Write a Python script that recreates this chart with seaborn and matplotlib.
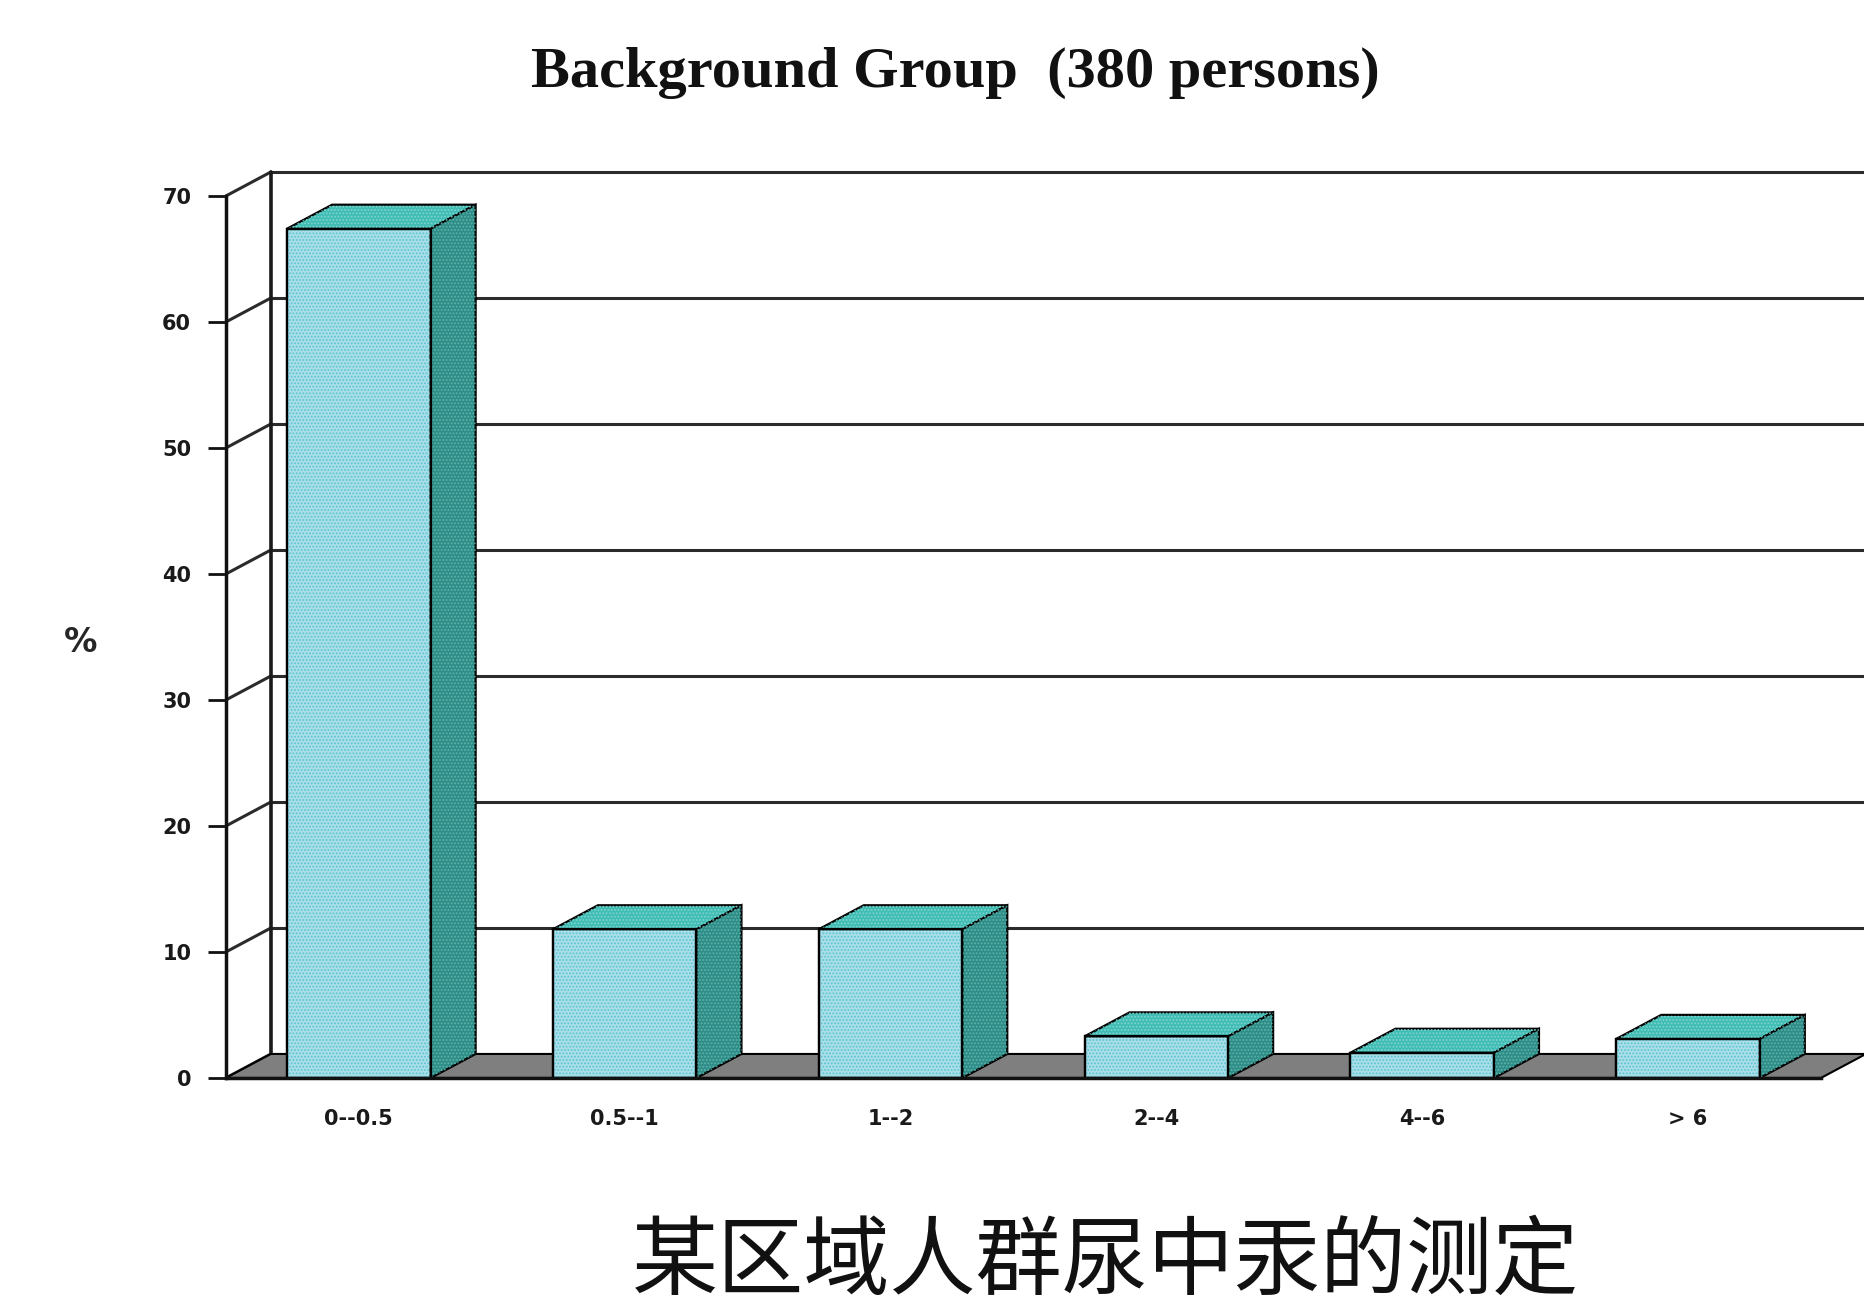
import numpy as np
import pandas as pd
import matplotlib
matplotlib.use("Agg")
import matplotlib.pyplot as plt
from matplotlib.patches import Polygon, Rectangle
import seaborn as sns

categories = ["0--0.5", "0.5--1", "1--2", "2--4", "4--6", "> 6"]
percent = [67.4, 11.8, 11.8, 3.3, 2.0, 3.1]
y_ticks = [0, 10, 20, 30, 40, 50, 60, 70]

title = "Background Group  (380 persons)"
caption = "某区域人群尿中汞的测定"

sns.set_style("white")
plt.rcParams['font.family'] = ['DejaVu Sans']
plt.rcParams['hatch.linewidth'] = 0.9

fig = plt.figure(figsize=(18.64, 13.09), dpi=100)
ax_pos = [0.1212, 0.1765, 0.8557, 0.6738]
ax = fig.add_axes(ax_pos)

df = pd.DataFrame({"range": categories, "pct": percent})
sns.barplot(data=df, x="range", y="pct", ax=ax, width=0.54, color="#aadfe8",
            saturation=1, edgecolor="black", linewidth=1.6, zorder=5)

ax.set_xlim(-0.5, len(categories) - 0.5)
ax.set_ylim(0, 70)

# fake 3d depth: 45 px right, 24 px up, turned into data units
w_px = ax_pos[2] * 1864
h_px = ax_pos[3] * 1309
dx = 45 / (w_px / len(categories))
dy = 24 / (h_px / 70)

x_left = -0.5
x_right = len(categories) - 0.5
grid_kw = dict(color="#2b2b2b", lw=2.2, clip_on=False, zorder=1)

# back wall gridlines + side wall connectors
for t in y_ticks[1:]:
    ax.plot([x_left + dx, x_right + dx + 0.2], [t + dy, t + dy], **grid_kw)
for t in y_ticks:
    ax.plot([x_left, x_left + dx], [t, t + dy], **grid_kw)
ax.plot([x_left + dx, x_left + dx], [dy, 70 + dy], color="#1a1a1a", lw=2.6, clip_on=False, zorder=1)

# floor
floor = Polygon([[x_left, 0], [x_right, 0], [x_right + dx, dy], [x_left + dx, dy]],
                closed=True, facecolor="#7f7f7f", edgecolor="black", lw=1.5,
                clip_on=False, zorder=2)
ax.add_patch(floor)

# top + side faces of each bar
for p in list(ax.patches):
    if not isinstance(p, Rectangle):
        continue
    x0, w, h = p.get_x(), p.get_width(), p.get_height()
    x1 = x0 + w
    top = [[x0, h], [x1, h], [x1 + dx, h + dy], [x0 + dx, h + dy]]
    side = [[x1, 0], [x1, h], [x1 + dx, h + dy], [x1 + dx, dy]]
    ax.add_patch(Polygon(top, closed=True, facecolor="#3fbdb5", edgecolor="black",
                         lw=1.6, clip_on=False, zorder=5))
    ax.add_patch(Polygon(top, closed=True, fill=False, hatch=".....", edgecolor="#7fd3cd",
                         lw=0, clip_on=False, zorder=5.2))
    ax.add_patch(Polygon(side, closed=True, facecolor="#2e8d87", edgecolor="black",
                         lw=1.6, clip_on=False, zorder=5))
    ax.add_patch(Polygon(side, closed=True, fill=False, hatch=".....", edgecolor="#5fb1ab",
                         lw=0, clip_on=False, zorder=5.2))
    ax.add_patch(Rectangle((x0, 0), w, h, fill=False, hatch=".....", edgecolor="#5cc4d4",
                           lw=0, zorder=5.2))
    ax.add_patch(Rectangle((x0, 0), w, h, fill=False, edgecolor="black", lw=1.6, zorder=5.3))

# axes, ticks, labels
for s in ["top", "right"]:
    ax.spines[s].set_visible(False)
for s in ["left", "bottom"]:
    ax.spines[s].set_linewidth(2.5)
    ax.spines[s].set_color("#111111")
    ax.spines[s].set_zorder(6)

ax.set_yticks(y_ticks)
ax.set_xticks(range(len(categories)))
ax.set_xticklabels(categories)
ax.set_xticks(np.arange(x_left, x_right + 0.01, 1), minor=True)
ax.tick_params(axis="x", which="major", length=0, pad=22, labelsize=15)
ax.tick_params(axis="x", which="minor", length=10, width=2, direction="out", color="#111111")
ax.tick_params(axis="y", length=13, width=2, pad=12, labelsize=15, direction="out", color="#111111", left=True)
for lbl in ax.get_xticklabels() + ax.get_yticklabels():
    lbl.set_fontweight("bold")
    lbl.set_color("#1a1a1a")

ax.set_xlabel("")
ax.set_ylabel("%", rotation=0, fontsize=24, fontweight="bold", va="center", ha="center")
ax.yaxis.set_label_coords(-0.091, 0.494)

fig.text(0.5123, 0.9445, title, family="Liberation Serif", fontweight="bold",
         fontsize=42, ha="center", va="center", color="#111111")
fig.text(0.593, 0.035, caption, family=["Noto Sans CJK SC", "DejaVu Sans"],
         fontsize=62, ha="center", va="center", color="#111111")

fig.savefig("out.png", dpi=100)
